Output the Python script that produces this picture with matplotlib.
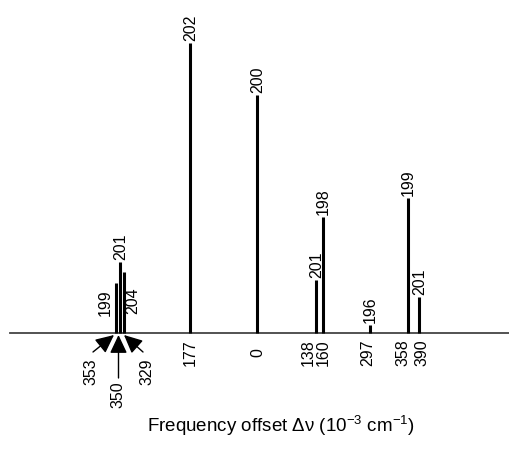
import matplotlib.pyplot as plt

plt.rcParams['font.family'] = ['Liberation Sans', 'DejaVu Sans']
plt.rcParams['mathtext.fontset'] = 'custom'
plt.rcParams['mathtext.rm'] = 'Liberation Sans'
plt.rcParams['mathtext.it'] = 'Liberation Sans:italic'

# line positions along the schematic offset axis
line_pos = [116.5, 120, 124, 190, 257, 316, 323, 370, 408, 419.5]
# relative intensities
intensity = [50, 71, 61, 290, 238, 53, 116, 8, 135, 36]
# assignment labels on top of each line
line_labels = ['199', '201', '204', '202', '200', '201', '198', '196', '199', '201']
# frequency offsets written under the axis
offset_labels = ['177', '0', '138', '160', '297', '358', '390']
offset_pos = [190, 258, 308, 323, 368, 403, 422]
# crowded lines near the origin, marked with arrows
arrow_labels = ['353', '350', '329']
arrow_tips = [114, 118.5, 124]

fig = plt.figure(figsize=(5.09, 4.49), dpi=100)
ax = fig.add_axes([0, 0, 1, 1])
ax.set_xlim(0, 509)
ax.set_ylim(-116, 333)
ax.axis('off')

ax.axhline(0, xmin=10 / 509, xmax=1, color='#444444', lw=1.3, zorder=1)

fs = 11.5
for i, (x, h, lab) in enumerate(zip(line_pos, intensity, line_labels)):
    ax.vlines(x, 0, h, color='black', lw=2.2, zorder=2)
    if i == 0:
        ax.text(x - 11, h - 20, lab, rotation=90, ha='center', va='center', fontsize=fs)
    elif i == 2:
        ax.text(x + 9, h - 29, lab, rotation=90, ha='center', va='center', fontsize=fs)
    else:
        ax.text(x + 0.5, h + 2, lab, rotation=90, ha='center', va='bottom', fontsize=fs)

for x, lab in zip(offset_pos, offset_labels):
    ax.text(x, -20, lab, rotation=90, ha='center', va='center', fontsize=fs)

# arrows pointing at the crowded group
arrow_tails = [(93, -19), (118.5, -45), (143, -19)]
label_xy = [(91, -38.5), (118, -62), (147, -38.5)]
for tip, tail, lxy, lab in zip(arrow_tips, arrow_tails, label_xy, arrow_labels):
    ax.annotate('', xy=(tip, -2), xytext=tail,
                arrowprops=dict(arrowstyle='-|>,head_length=0.7,head_width=0.33',
                                mutation_scale=16, lw=1, color='black',
                                shrinkA=0, shrinkB=0))
    ax.text(lxy[0], lxy[1], lab, rotation=90, ha='center', va='center', fontsize=fs)

fig.text(281 / 509, 23 / 449, 'Frequency offset Δν (10$^{-3}$ cm$^{-1}$)',
         ha='center', va='center', fontsize=13.5)

fig.savefig('out.png', dpi=100)
